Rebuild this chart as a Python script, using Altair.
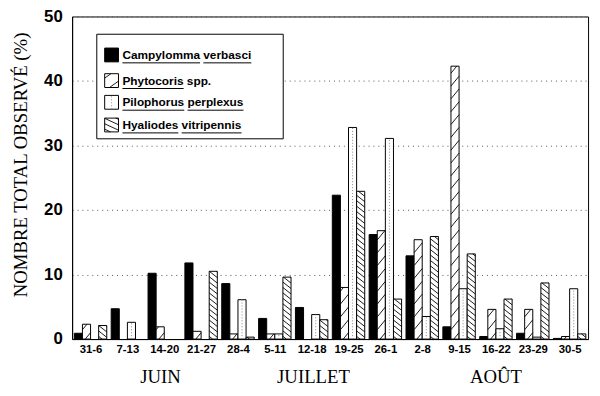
import json
import altair as alt
import pandas as pd

# ---------------- data ----------------
WEEKS = ["31-6", "7-13", "14-20", "21-27", "28-4", "5-11", "12-18",
         "19-25", "26-1", "2-8", "9-15", "16-22", "23-29", "30-5"]
SPECIES = ["Campylomma verbasci", "Phytocoris spp.",
           "Pilophorus perplexus", "Hyaliodes vitripennis"]
UNDERLINED = [["Campylomma", "verbasci"], ["Phytocoris"],
              ["Pilophorus", "perplexus"], ["Hyaliodes", "vitripennis"]]
CAMPYLOMMA = [0.9, 4.7, 10.2, 11.8, 8.6, 3.2, 4.9, 22.3, 16.2, 12.9, 1.9, 0.4, 0.9, 0.1]
PHYTOCORIS = [2.3, 0.0, 1.9, 1.2, 0.8, 0.8, 0.0, 8.0, 16.8, 15.4, 42.3, 4.6, 4.6, 0.4]
PILOPHORUS = [0.0, 2.6, 0.0, 0.0, 6.1, 0.8, 3.8, 32.8, 31.1, 3.5, 7.8, 1.6, 0.3, 7.8]
HYALIODES = [2.1, 0.0, 0.0, 10.5, 0.3, 9.6, 3.0, 22.9, 6.2, 15.9, 13.2, 6.2, 8.7, 0.8]
MONTHS = ["JUIN", "JUILLET", "AOÛT"]
MONTH_CENTER = [2.4, 6.55, 11.5]          # in week-slot units
Y_TICKS = [0, 10, 20, 30, 40, 50]

# ---------------- layout ----------------
W, H = 523, 327
PAD = {"left": 65, "top": 6, "right": 4, "bottom": 47}
N = len(WEEKS)
PXX = W / N
PXY = H / 50.0
BAR_W = 0.22
BAR_OFF = 0.06
SERIES = [CAMPYLOMMA, PHYTOCORIS, PILOPHORUS, HYALIODES]
PATTERNS = ["solid", "fwd", "dots", "back"]
FILLS = {"solid": "black", "fwd": "white", "dots": "white", "back": "white"}
FWD = (10 / PXY, 13 / PXY)      # rise across bar, vertical spacing
BACK = (6.5 / PXY, 5.5 / PXY)


def hatch(x0, x1, y0, y1, kind):
    rise, step = FWD if kind == "fwd" else BACK
    segs = []
    c = y0 - rise + step * 0.5
    while c < y1:
        if kind == "fwd":
            tlo = max(0.0, (y0 - c) / rise)
            thi = min(1.0, (y1 - c) / rise)
            ya, yb = c + rise * tlo, c + rise * thi
        else:
            tlo = max(0.0, 1 - (y1 - c) / rise)
            thi = min(1.0, 1 - (y0 - c) / rise)
            ya, yb = c + rise * (1 - tlo), c + rise * (1 - thi)
        if thi - tlo > 1e-6:
            segs.append({"hx": x0 + (x1 - x0) * tlo, "hx2": x0 + (x1 - x0) * thi,
                         "hy": ya, "hy2": yb})
        c += step
    return segs


rect_rows, hatch_rows, dot_rows = [], [], []
for k, (vals, pat) in enumerate(zip(SERIES, PATTERNS)):
    for i, v in enumerate(vals):
        if v <= 0:
            continue
        x0 = i + BAR_OFF + k * BAR_W
        x1 = x0 + BAR_W
        rect_rows.append({"x0": x0, "x1": x1, "b": 0.0, "v": v, "fill": FILLS[pat]})
        if pat in ("fwd", "back"):
            hatch_rows += hatch(x0, x1, 0.0, v, pat)
        elif pat == "dots":
            dot_rows.append({"dx": (x0 + x1) / 2, "d0": 0.0, "d1": v})

# ---------------- legend (reference pixel layout -> data units) ----------------
REF_LEFT, REF_ZERO = 73, 341


def lx(px):
    return (px - REF_LEFT) / PXX


def ly(py):
    return (REF_ZERO - py) / PXY


AW = {" ": 278, ".": 278, "C": 722, "H": 722, "P": 667, "a": 556, "b": 611, "c": 556,
      "d": 611, "e": 556, "h": 611, "i": 278, "l": 278, "m": 889, "n": 611, "o": 611,
      "p": 611, "r": 389, "s": 556, "t": 333, "u": 611, "v": 556, "x": 556, "y": 556}
LFONT = 12


def tw(s):
    return sum(AW.get(ch, 556) for ch in s) * LFONT / 1000.0


BOX = (98, 287, 32, 138)
ROWS = [53, 79, 101, 124]
SYM = (106, 120)
TEXT_X = 124

box_df = pd.DataFrame([{"x0": lx(BOX[0]), "x1": lx(BOX[1]), "b": ly(BOX[3]), "v": ly(BOX[2])}])
text_rows, ul_rows = [], []
for r, (name, pat, words) in enumerate(zip(SPECIES, PATTERNS, UNDERLINED)):
    ry = ROWS[r]
    x0, x1 = lx(SYM[0]), lx(SYM[1])
    y0, y1 = ly(ry + 7), ly(ry - 7)
    rect_rows.append({"x0": x0, "x1": x1, "b": y0, "v": y1, "fill": FILLS[pat]})
    if pat in ("fwd", "back"):
        hatch_rows += hatch(x0, x1, y0, y1, pat)
    elif pat == "dots":
        dot_rows.append({"dx": (x0 + x1) / 2, "d0": y0, "d1": y1})
    text_rows.append({"tx": lx(TEXT_X), "ty": ly(ry), "t": name})
    for wd in words:
        start = TEXT_X + tw(name[:name.index(wd)])
        ul_rows.append({"ux": lx(start), "ux2": lx(start + tw(wd)), "uy": ly(ry + 8)})

XS = alt.Scale(domain=[0, N], nice=False, zero=False)
YS = alt.Scale(domain=[0, 50], nice=False)

label_expr = json.dumps(WEEKS) + "[round(datum.value - 0.5)]"
XAXIS = alt.Axis(values=[i + 0.5 for i in range(N)], labelExpr=label_expr, ticks=False,
                 grid=False, title=None, labelFont="Liberation Sans", labelFontWeight="bold",
                 labelFontSize=11.5, labelPadding=5, labelOverlap=False, labelColor="black",
                 domainColor="black")
YAXIS = alt.Axis(values=Y_TICKS, ticks=False, grid=True, gridDash=[1, 4], gridColor="#555555",
                 labelFont="Liberation Sans", labelFontWeight="bold", labelFontSize=17,
                 labelPadding=10, labelColor="black", domainColor="black",
                 title="NOMBRE TOTAL OBSERVÉ (%)", titleFont="Liberation Serif",
                 titleFontSize=19, titleFontWeight="normal", titleColor="black",
                 titleAngle=270, titleX=-46, titleY=150, titleAlign="center",
                 titleBaseline="alphabetic")


def xq(field):
    return alt.X(field, type="quantitative", scale=XS, axis=XAXIS)


def yq(field):
    return alt.Y(field, type="quantitative", scale=YS, axis=YAXIS)


box = alt.Chart(box_df).mark_rect(stroke="black", strokeWidth=1, fill="white").encode(
    x=xq("x0"), x2="x1", y=yq("b"), y2="v")

base_rect = alt.Chart(pd.DataFrame(rect_rows)).mark_rect(stroke="black", strokeWidth=1).encode(
    x=xq("x0"), x2="x1", y=yq("b"), y2="v",
    fill=alt.Fill("fill:N", scale=None))

hatches = alt.Chart(pd.DataFrame(hatch_rows)).mark_rule(color="black", strokeWidth=0.9).encode(
    x=xq("hx"), x2="hx2", y=yq("hy"), y2="hy2")

dots = alt.Chart(pd.DataFrame(dot_rows)).mark_rule(color="#888888", strokeWidth=1,
                                                   strokeDash=[1, 2]).encode(
    x=xq("dx"), y=yq("d0"), y2="d1")

texts = alt.Chart(pd.DataFrame(text_rows)).mark_text(
    font="Liberation Sans", fontWeight="bold", fontSize=LFONT, align="left",
    baseline="middle", color="black").encode(
    x=xq("tx"), y=yq("ty"), text="t:N")

underlines = alt.Chart(pd.DataFrame(ul_rows)).mark_rule(color="black", strokeWidth=1).encode(
    x=xq("ux"), x2="ux2", y=yq("uy"))

months = alt.Chart(pd.DataFrame({"m": MONTHS, "mx": MONTH_CENTER})).mark_text(
    font="Liberation Serif", fontSize=19, color="black", baseline="middle").encode(
    x=xq("mx"), y=alt.value(H + 39), text="m:N")

chart = alt.layer(box, base_rect, hatches, dots, texts, underlines, months).properties(
    width=W, height=H, padding=PAD, background="white",
    autosize=alt.AutoSizeParams(type="none")
).configure_view(stroke="black", strokeWidth=1)

chart.save("out.html", embed_options={"renderer": "svg", "actions": False})
